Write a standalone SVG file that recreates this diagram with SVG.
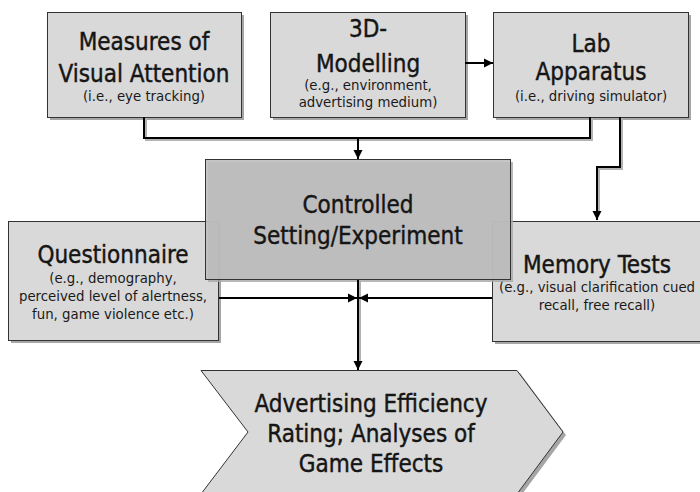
<svg xmlns="http://www.w3.org/2000/svg" width="700" height="492" viewBox="0 0 700 492">
<defs>
<style>
.box{fill:#d9d9d9;stroke:#333;stroke-width:1}
.ctl{fill:#bdbdbd;fill-opacity:0.88;stroke:#333;stroke-width:1}
.sh{fill:#a6a6a6}
.t{font-family:"DejaVu Sans Condensed","DejaVu Sans","Liberation Sans",sans-serif;font-size:24px;fill:#151515;stroke:#151515;stroke-width:0.4;text-anchor:middle}
.s{font-family:"DejaVu Sans Condensed","DejaVu Sans","Liberation Sans",sans-serif;font-size:14.8px;fill:#1a1a1a;text-anchor:middle}
.c{fill:none;stroke:#000;stroke-width:2}
.cs{fill:none;stroke:#b3b3b3;stroke-width:2}
</style>
<marker id="ah" markerUnits="userSpaceOnUse" markerWidth="10" markerHeight="10" refX="9" refY="5" orient="auto">
<path d="M0,0.5 L9,5 L0,9.5 z" fill="#000"/>
</marker>
</defs>
<rect width="700" height="492" fill="#fff"/>

<g id="measures">
<rect class="sh" x="50" y="15" width="194" height="105"/>
<rect class="box" x="47.5" y="12.5" width="194" height="105"/>
<text class="t" x="144" y="50">Measures of</text>
<text class="t" x="144" y="82">Visual Attention</text>
<text class="s" x="144" y="101">(i.e., eye tracking)</text>
</g>

<g id="modelling">
<rect class="sh" x="273" y="15" width="195" height="105"/>
<rect class="box" x="270.5" y="12.5" width="195" height="105"/>
<text class="t" x="368" y="37">3D-</text>
<text class="t" x="368" y="72">Modelling</text>
<text class="s" x="368" y="90">(e.g., environment,</text>
<text class="s" x="368" y="107">advertising medium)</text>
</g>

<g id="lab">
<rect class="sh" x="496" y="15" width="195" height="105"/>
<rect class="box" x="493.5" y="12.5" width="195" height="105"/>
<text class="t" x="591" y="52">Lab</text>
<text class="t" x="591" y="80">Apparatus</text>
<text class="s" x="591" y="101">(i.e., driving simulator)</text>
</g>

<g id="questionnaire">
<rect class="sh" x="11" y="224" width="210" height="119"/>
<rect class="box" x="8.5" y="221.5" width="210" height="119"/>
<text class="t" x="113" y="263">Questionnaire</text>
<text class="s" x="113" y="283">(e.g., demography,</text>
<text class="s" x="113" y="301">perceived level of alertness,</text>
<text class="s" x="113" y="319">fun, game violence etc.)</text>
</g>

<g id="memory">
<rect class="sh" x="495" y="224" width="210" height="120"/>
<rect class="box" x="492.5" y="221.5" width="210" height="120"/>
<text class="t" x="597" y="273">Memory Tests</text>
<text class="s" x="597" y="292">(e.g., visual clarification cued</text>
<text class="s" x="597" y="310">recall, free recall)</text>
</g>

<g id="controlled">
<rect class="sh" x="208" y="162" width="305" height="120" opacity="0.8"/>
<rect class="ctl" x="205.5" y="159.5" width="305" height="120"/>
<text class="t" x="358" y="213">Controlled</text>
<text class="t" x="358" y="244">Setting/Experiment</text>
</g>

<g id="result">
<path d="M204,373 L520,373 L566,435 L520,497 L204,497 L251,435 z" fill="#a6a6a6"/>
<path d="M201,370.5 L517,370.5 L563,432 L517,494 L201,494 L248,432 z" fill="#d9d9d9" stroke="#333" stroke-width="1"/>
<text class="t" x="371" y="412">Advertising Efficiency</text>
<text class="t" x="371" y="442">Rating; Analyses of</text>
<text class="t" x="371" y="472">Game Effects</text>
</g>

<g id="connectors">
<path class="cs" d="M146,118 V140 H592 V118"/>
<path class="cs" d="M622,118 V169 H599 V212"/>
<path class="cs" d="M360,281 V362"/>
<path class="c" d="M144,117 V138 H590 V117"/>
<path class="c" d="M358,138 V159" marker-end="url(#ah)"/>
<path class="c" d="M465,63 H493" marker-end="url(#ah)"/>
<path class="c" d="M620,117 V167 H597 V220" marker-end="url(#ah)"/>
<path class="c" d="M219,298 H357" marker-end="url(#ah)"/>
<path class="c" d="M492,298 H359" marker-end="url(#ah)"/>
<path class="c" d="M358,280 V370" marker-end="url(#ah)"/>
</g>
</svg>
